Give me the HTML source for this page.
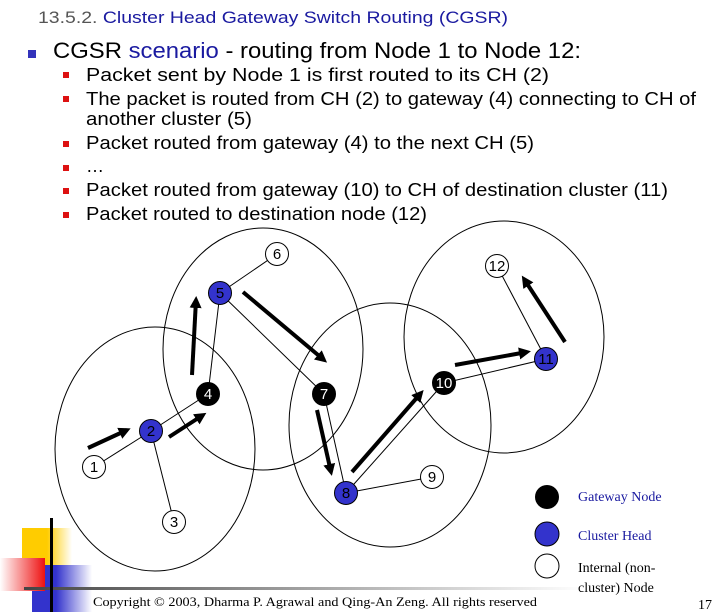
<!DOCTYPE html>
<html><head><meta charset="utf-8"><style>body{margin:0;background:#fff}svg{display:block}</style></head>
<body>
<svg width="720" height="612" xmlns="http://www.w3.org/2000/svg" font-family="Liberation Sans, DejaVu Sans, sans-serif">
<defs>
<linearGradient id="gl" x1="0" x2="1"><stop offset="0" stop-color="#444"/><stop offset="1" stop-color="#fff"/></linearGradient>
<linearGradient id="gy" x1="0" x2="1"><stop offset="0.5" stop-color="#ffcc00"/><stop offset="1" stop-color="#fff"/></linearGradient>
<linearGradient id="gr" x1="0" x2="1"><stop offset="0" stop-color="#fff"/><stop offset="1" stop-color="#ee1111"/></linearGradient>
<linearGradient id="gb" x1="0" x2="1"><stop offset="0.4" stop-color="#3333cc"/><stop offset="1" stop-color="#fff"/></linearGradient>
<marker id="ah" markerWidth="4" markerHeight="4" refX="2" refY="2" orient="auto" markerUnits="strokeWidth"><path d="M0,0.5 L3,2 L0,3.5z" fill="#000"/></marker>
</defs>
<text x="38" y="23" font-size="17" fill="#555" textLength="470" lengthAdjust="spacingAndGlyphs">13.5.2. <tspan fill="#1a1aa0">Cluster Head Gateway Switch Routing (CGSR)</tspan></text>
<rect x="28" y="50" width="8" height="8" fill="#3333bb"/>
<text x="53" y="58" font-size="22" fill="#000" textLength="528" lengthAdjust="spacingAndGlyphs">CGSR <tspan fill="#1a1aa0">scenario</tspan> - routing from Node 1 to Node 12:</text>
<g fill="#dd1111">
<rect x="63" y="72" width="6" height="6"/><rect x="63" y="96" width="6" height="6"/><rect x="63" y="141" width="6" height="6"/><rect x="63" y="165" width="6" height="6"/><rect x="63" y="188" width="6" height="6"/><rect x="63" y="212" width="6" height="6"/>
</g>
<g font-size="18" fill="#000">
<text x="86" y="81" textLength="463" lengthAdjust="spacingAndGlyphs">Packet sent by Node 1 is first routed to its CH (2)</text>
<text x="86" y="105" textLength="610" lengthAdjust="spacingAndGlyphs">The packet is routed from CH (2) to gateway (4) connecting to CH of</text>
<text x="86" y="125" textLength="166" lengthAdjust="spacingAndGlyphs">another cluster (5)</text>
<text x="86" y="149" textLength="448" lengthAdjust="spacingAndGlyphs">Packet routed from gateway (4) to the next CH (5)</text>
<text x="86" y="172">…</text>
<text x="86" y="196" textLength="582" lengthAdjust="spacingAndGlyphs">Packet routed from gateway (10) to CH of destination cluster (11)</text>
<text x="86" y="220" textLength="341" lengthAdjust="spacingAndGlyphs">Packet routed to destination node (12)</text>
</g>
<rect x="22" y="528" width="50" height="48" fill="url(#gy)"/>
<rect x="32" y="565" width="60" height="47" fill="url(#gb)"/>
<rect x="0" y="558" width="45" height="33" fill="url(#gr)"/>
<rect x="24" y="587" width="560" height="3" fill="url(#gl)"/>
<rect x="50" y="518" width="3" height="94" fill="#000"/>
<g fill="none" stroke="#000" stroke-width="1">
<ellipse cx="155" cy="449" rx="100" ry="122"/>
<ellipse cx="263" cy="349" rx="100" ry="121"/>
<ellipse cx="390" cy="425" rx="101" ry="122"/>
<ellipse cx="504" cy="337" rx="100" ry="116"/>
</g>
<g stroke="#000" stroke-width="1">
<line x1="94" y1="467" x2="151" y2="431"/><line x1="151" y1="431" x2="174" y2="522"/>
<line x1="151" y1="431" x2="208" y2="394"/><line x1="208" y1="394" x2="220" y2="293"/>
<line x1="220" y1="293" x2="277" y2="254"/><line x1="220" y1="293" x2="324" y2="394"/>
<line x1="324" y1="394" x2="346" y2="493"/><line x1="346" y1="493" x2="444" y2="383"/>
<line x1="346" y1="493" x2="432" y2="477"/><line x1="444" y1="383" x2="546" y2="359"/>
<line x1="546" y1="359" x2="497" y2="266"/>
</g>
<g stroke="#000" stroke-width="4" marker-end="url(#ah)">
<line x1="88" y1="448" x2="127" y2="430"/>
<line x1="169" y1="437" x2="203" y2="415"/>
<line x1="192" y1="375" x2="196" y2="300"/>
<line x1="243" y1="292" x2="324" y2="360"/>
<line x1="317" y1="410" x2="331" y2="472"/>
<line x1="352" y1="472" x2="421" y2="393"/>
<line x1="455" y1="365" x2="527" y2="352"/>
<line x1="565" y1="342" x2="524" y2="279"/>
</g>
<g stroke="#000" stroke-width="1" font-size="15" text-anchor="middle">
<circle cx="94" cy="467" r="11.5" fill="#fff"/><text x="94" y="472" stroke="none">1</text>
<circle cx="151" cy="431" r="11.5" fill="#3333cc"/><text x="151" y="436" stroke="none">2</text>
<circle cx="174" cy="522" r="11.5" fill="#fff"/><text x="174" y="527" stroke="none">3</text>
<circle cx="208" cy="394" r="11.5" fill="#000"/><text x="208" y="399" stroke="none" fill="#fff">4</text>
<circle cx="220" cy="293" r="11.5" fill="#3333cc"/><text x="220" y="298" stroke="none">5</text>
<circle cx="277" cy="254" r="11.5" fill="#fff"/><text x="277" y="259" stroke="none">6</text>
<circle cx="324" cy="394" r="11.5" fill="#000"/><text x="324" y="399" stroke="none" fill="#fff">7</text>
<circle cx="346" cy="493" r="11.5" fill="#3333cc"/><text x="346" y="498" stroke="none">8</text>
<circle cx="432" cy="477" r="11.5" fill="#fff"/><text x="432" y="482" stroke="none">9</text>
<circle cx="444" cy="383" r="11.5" fill="#000"/><text x="444" y="388" stroke="none" fill="#fff">10</text>
<circle cx="546" cy="359" r="11.5" fill="#3333cc"/><text x="546" y="364" stroke="none">11</text>
<circle cx="497" cy="266" r="11.5" fill="#fff"/><text x="497" y="271" stroke="none">12</text>
</g>
<circle cx="547" cy="497" r="12" fill="#000"/>
<circle cx="547" cy="534" r="12" fill="#3333cc" stroke="#000"/>
<circle cx="547" cy="566" r="12" fill="#fff" stroke="#000"/>
<g font-family="Liberation Serif, serif" font-size="14">
<text x="578" y="501" fill="#1a1aa0">Gateway Node</text>
<text x="578" y="540" fill="#1a1aa0">Cluster Head</text>
<text x="578" y="572">Internal (non-</text>
<text x="578" y="592">cluster) Node</text>
<text x="93" y="606" font-size="13" textLength="444" lengthAdjust="spacingAndGlyphs">Copyright © 2003, Dharma P. Agrawal and Qing-An Zeng. All rights reserved</text>
<text x="698" y="609" font-size="14">17</text>
</g>
</svg>
</body></html>
